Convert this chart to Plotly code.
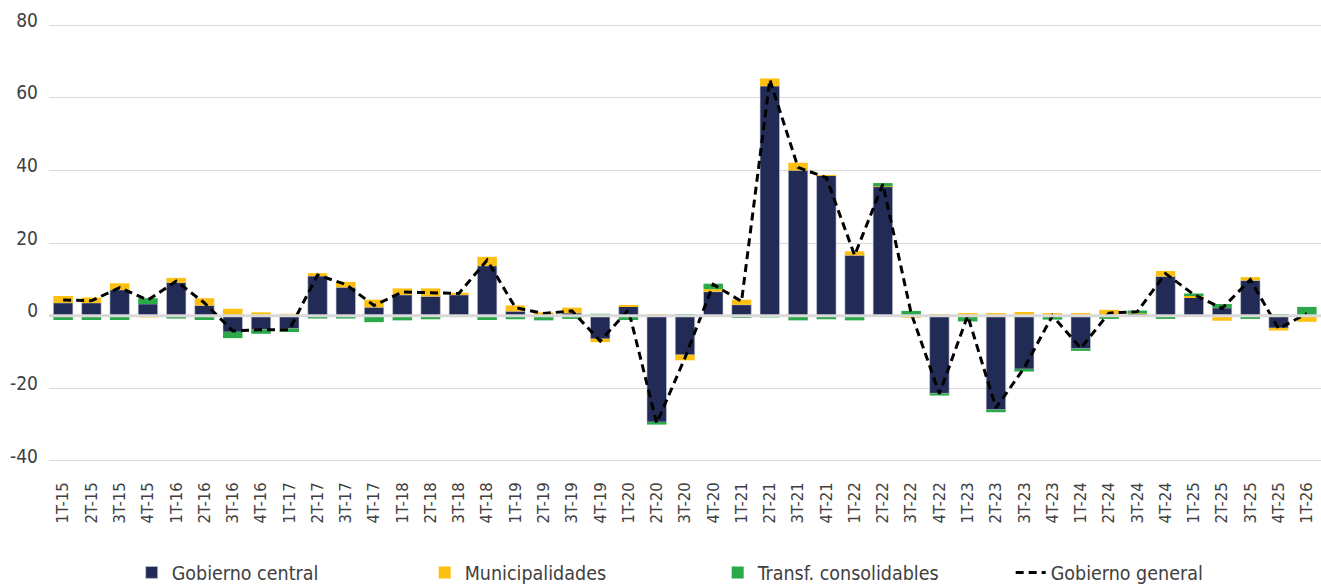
import plotly.graph_objects as go

categories = ["1T-15","2T-15","3T-15","4T-15","1T-16","2T-16","3T-16","4T-16","1T-17","2T-17","3T-17","4T-17",
              "1T-18","2T-18","3T-18","4T-18","1T-19","2T-19","3T-19","4T-19","1T-20","2T-20","3T-20","4T-20",
              "1T-21","2T-21","3T-21","4T-21","1T-22","2T-22","3T-22","4T-22","1T-23","2T-23","3T-23","4T-23",
              "1T-24","2T-24","3T-24","4T-24","1T-25","2T-25","3T-25","4T-25","1T-26"]

gob_central = [3.5, 3.5, 7.1, 3.2, 9.1, 2.8, -4.5, -3.8, -3.6, 10.9, 7.8, 2.3,
               5.7, 5.3, 5.7, 13.7, 1.2, 0.4, 0.7, -6.4, 2.5, -29.3, -10.8, 6.6,
               3.0, 63.2, 40.0, 38.6, 16.6, 35.5, 0.1, -21.4, -0.3, -25.9, -14.7, -0.2,
               -9.1, 0.3, 0.5, 10.8, 5.0, 2.1, 9.7, -3.4, 0.1]

municipalidades = [1.9, 1.5, 1.8, -0.5, 1.3, 2.0, 1.9, 0.9, 0.5, 0.8, 1.5, 2.1,
                   1.8, 2.2, 0.6, 2.5, 1.6, 0.5, 1.5, -0.9, 0.2, 0.2, -1.5, 0.7,
                   1.4, 2.1, 2.1, 0.1, 1.1, 0.1, -0.6, 0.3, 0.7, 0.7, 1.0, 0.7,
                   0.7, 1.3, 0.1, 1.5, 0.4, -1.4, 0.9, -0.7, -1.7]

transf_consolidables = [-1.2, -1.2, -1.2, 1.6, -0.8, -1.2, -1.7, -1.2, -0.9, -0.8, -0.8, -1.8,
                        -1.3, -1.0, -0.4, -1.2, -1.0, -1.3, -0.9, 0.5, -1.2, -0.7, 0.4, 1.5,
                        -0.6, -0.5, -1.3, -1.0, -1.3, 0.9, 1.2, -0.6, -1.3, -0.7, -0.7, -0.9,
                        -0.6, -0.9, 0.8, -0.9, 0.7, 1.1, -0.9, 0.3, 2.3]

gob_general = [4.3, 4.1, 7.7, 4.3, 9.5, 3.5, -4.2, -3.9, -3.9, 11.2, 8.6, 2.8,
               6.5, 6.4, 6.1, 15.3, 2.2, 0.6, 1.3, -7.0, 1.6, -29.6, -11.6, 8.6,
               3.9, 65.0, 40.8, 38.0, 16.6, 36.2, 0.7, -21.5, 0.0, -25.4, -14.4, 0.0,
               -9.0, 0.7, 1.1, 11.6, 5.8, 2.0, 9.9, -3.6, 0.6]

y_tickvals = [-40, -20, 0, 20, 40, 60, 80]
y_ticktext = ["-40", "-20", "0", "20", "40", "60", "80"]

NAVY = "#222B55"
YELLOW = "#FDC010"
GREEN = "#2BA84A"
FONT = "DejaVu Sans Condensed"
TXT = "#404040"
GRID = "#d9d9d9"

fig = go.Figure()
fig.add_trace(go.Bar(x=categories, y=gob_central, name="Gobierno central",
                     marker=dict(color=NAVY, line=dict(color="#d0d3dc", width=0.6))))
fig.add_trace(go.Bar(x=categories, y=municipalidades, name="Municipalidades",
                     marker=dict(color=YELLOW, line=dict(width=0))))
fig.add_trace(go.Bar(x=categories, y=transf_consolidables, name="Transf. consolidables",
                     marker=dict(color=GREEN, line=dict(width=0))))
fig.add_trace(go.Scatter(x=categories, y=gob_general, name="Gobierno general", mode="lines",
                         line=dict(color="black", width=3, dash="8px,5px")))

# zero axis line drawn above the bars (as in the original)
fig.add_shape(type="line", xref="paper", x0=0, x1=1, yref="y", y0=0, y1=0,
              line=dict(color=GRID, width=3), layer="above")

fig.update_layout(
    barmode="relative",
    bargap=0.31,
    width=1321, height=585,
    margin=dict(l=49, r=0, t=24, b=123, autoexpand=False),
    paper_bgcolor="white", plot_bgcolor="white",
    font=dict(family=FONT, color=TXT, size=16),
    showlegend=True,
    legend=dict(orientation="h", x=0.065, xanchor="left",
                yref="container", y=0.021, yanchor="middle",
                entrywidth=248, entrywidthmode="pixels",
                font=dict(family=FONT, size=19.5, color=TXT), traceorder="normal"),
    xaxis=dict(type="category", tickangle=-90, tickfont=dict(size=16.5, color=TXT, family=FONT),
               showgrid=False, showline=False, ticks="", automargin=False, ticklabelstandoff=16),
    yaxis=dict(range=[-40.3, 80.3], tickvals=y_tickvals, ticktext=y_ticktext,
               showgrid=True, gridcolor=GRID, gridwidth=1,
               zeroline=False,
               tickfont=dict(size=19, color=TXT, family=FONT), automargin=False,
               ticklabelstandoff=10, ticklabelshift=-5),
)

fig.write_html("out.html", config={"displayModeBar": False},
               post_script="document.body.style.margin='0';document.body.style.overflow='hidden';")
